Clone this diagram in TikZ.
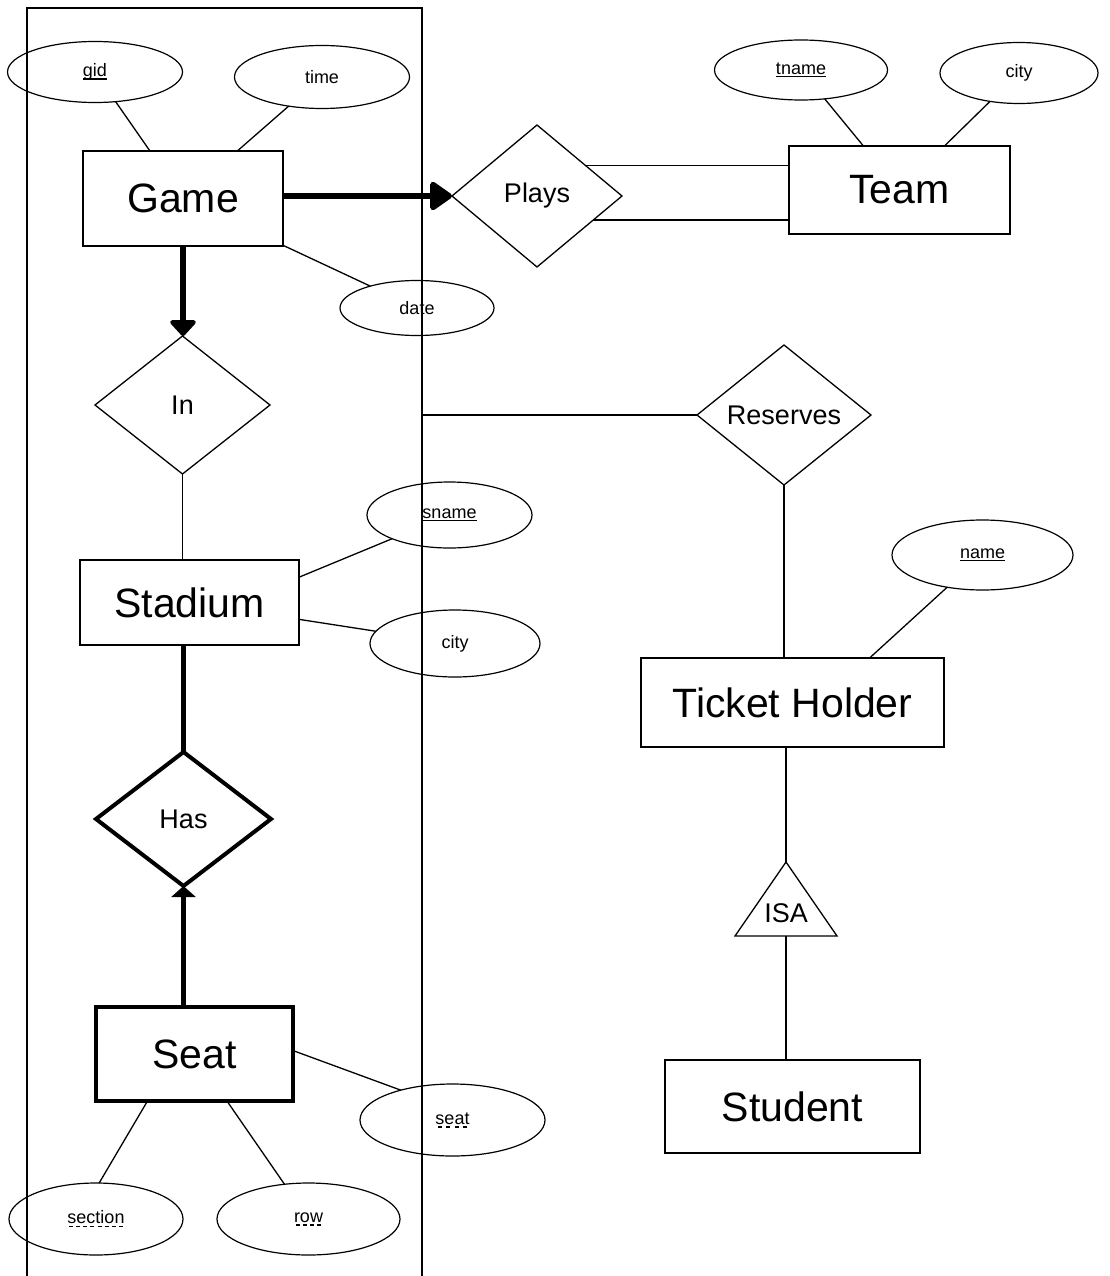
\documentclass[tikz,border=0pt]{standalone}
\usepackage{fontspec}
\setmainfont{Liberation Sans}
\usetikzlibrary{shapes.geometric, arrows.meta}

\newsavebox\keybox
\newcommand\fullkey[1]{\sbox\keybox{#1}\rlap{\usebox\keybox}%
  \raisebox{-3pt}{\rule{\wd\keybox}{1.2pt}}}
\newcommand\partkey[1]{\sbox\keybox{#1}\rlap{\usebox\keybox}%
  \raisebox{-3.5pt}{\hbox to \wd\keybox{\xleaders\hbox to 7pt{\hss\vrule width 4pt height 1.4pt\hss}\hfill}}}

\begin{document}
\begin{tikzpicture}[x = 1pt, y = -1pt,
    thin line/.style = {line width = 1.3pt},
    heavy/.style = {line width = 5.5pt},
    entity/.style = {draw, rectangle, line width = 1.4pt, inner sep = 0pt,
      outer sep = 0pt, font = \fontsize{41}{44}\selectfont},
    relation/.style = {draw, diamond, line width = 1.3pt, inner sep = 0pt,
      outer sep = 0pt, font = \fontsize{27}{30}\selectfont},
    attribute/.style = {draw, ellipse, line width = 1.2pt, inner sep = 0pt,
      outer sep = 0pt, font = \fontsize{18}{20}\selectfont}]
  \useasboundingbox (0, 0) rectangle (1109, 1276);
  \fill[white] (0, 0) rectangle (1109, 1276);

  \node[draw, thin line, inner sep = 0pt, outer sep = 0pt,
    minimum width = 395pt, minimum height = 1280pt] (agg) at (224.5, 648) {};

  \node[entity, minimum width = 200pt, minimum height = 95pt] (game) at (183, 198.5) {Game};
  \node[attribute, minimum width = 175pt, minimum height = 61pt] (gid) at (95, 72) {\fullkey{gid}};
  \node[attribute, minimum width = 175pt, minimum height = 63pt] (time) at (322, 77) {time};
  \node[attribute, minimum width = 154pt, minimum height = 55pt] (date) at (417, 308) {date};
  \node[relation, minimum width = 170pt, minimum height = 142pt] (plays) at (537, 196) {Plays};
  \node[entity, minimum width = 221pt, minimum height = 88pt] (team) at (899.5, 190) {Team};
  \node[attribute, minimum width = 173pt, minimum height = 60pt] (tname) at (801, 70) {\fullkey{tname}};
  \node[attribute, minimum width = 158pt, minimum height = 61pt] (tcity) at (1019, 73) {city};

  \node[relation, minimum width = 175pt, minimum height = 138pt] (in) at (182.5, 405) {In};
  \node[entity, minimum width = 219pt, minimum height = 85pt] (stadium) at (189.5, 602.5) {Stadium};
  \node[attribute, minimum width = 165pt, minimum height = 66pt] (sname) at (449.5, 515) {\fullkey{sname}};
  \node[attribute, minimum width = 170pt, minimum height = 67pt] (scity) at (455, 643.5) {city};
  \node[relation, line width = 4pt, minimum width = 175pt, minimum height = 134pt] (has) at (183.5, 819) {Has};
  \node[entity, line width = 4.5pt, minimum width = 197pt, minimum height = 94pt] (seat) at (194.5, 1054) {Seat};
  \node[attribute, minimum width = 185pt, minimum height = 72pt] (seatno) at (452.5, 1120) {\partkey{seat}};
  \node[attribute, minimum width = 174pt, minimum height = 72pt] (section) at (96, 1219) {\partkey{section}};
  \node[attribute, minimum width = 183pt, minimum height = 72pt] (row) at (308.5, 1219) {\partkey{row}};

  \node[relation, minimum width = 174pt, minimum height = 140pt] (reserves) at (784, 415) {Reserves};
  \node[entity, minimum width = 303pt, minimum height = 89pt] (holder) at (792.5, 702.5) {Ticket Holder};
  \node[attribute, minimum width = 181pt, minimum height = 70pt] (name) at (982.5, 555) {\fullkey{name}};
  \node[entity, minimum width = 255pt, minimum height = 93pt] (student) at (792.5, 1106.5) {Student};

  \draw[thin line] (786, 862) coordinate (isatop) -- (837, 936) -- (735, 936) -- cycle;
  \coordinate (isabase) at (786, 936);
  \node[font = \fontsize{27}{30}\selectfont] (isa) at (786, 913) {ISA};

  \draw[thin line] (gid) -- (game);
  \draw[thin line] (time) -- (game);
  \draw[thin line] (date) -- (game);
  \draw[thin line] (tname) -- (team);
  \draw[thin line] (tcity) -- (team);
  \draw[thin line] (plays.32) -- (plays.32 -| team.west);
  \draw[thin line] (plays.-23) -- (plays.-23 -| team.west);
  \draw[heavy, -{Triangle[length = 24pt, width = 32pt, round]}]
    (plays.west -| game.east) -- (plays.west);
  \draw[heavy, -{Triangle[length = 17pt, width = 30pt, round]}]
    (game.south) -- (game.south |- in.north);

  \draw[thin line] (in.south) -- (in.south |- stadium.north);
  \draw[thin line] (sname) -- (stadium.13);
  \draw[thin line] (scity) -- (stadium);
  \draw[line width = 5pt] (has.north |- stadium.south) -- (has.north);
  \draw[line width = 5pt, -{Triangle[length = 11pt, width = 24pt]}]
    (has.south |- seat.north) -- (has.south);
  \draw[thin line] (seatno.150) -- (seat.2);
  \draw[thin line] (section.85) -- (seat.-135);
  \draw[thin line] (row) -- (seat);

  \draw[thin line] (agg.east |- reserves.west) -- (reserves.west);
  \draw[thin line] (reserves.south) -- (reserves.south |- holder.north);
  \draw[thin line] (name) -- (holder.30);
  \draw[thin line] (isatop |- holder.south) -- (isatop);
  \draw[thin line] (isabase) -- (isabase |- student.north);
\end{tikzpicture}
\end{document}
